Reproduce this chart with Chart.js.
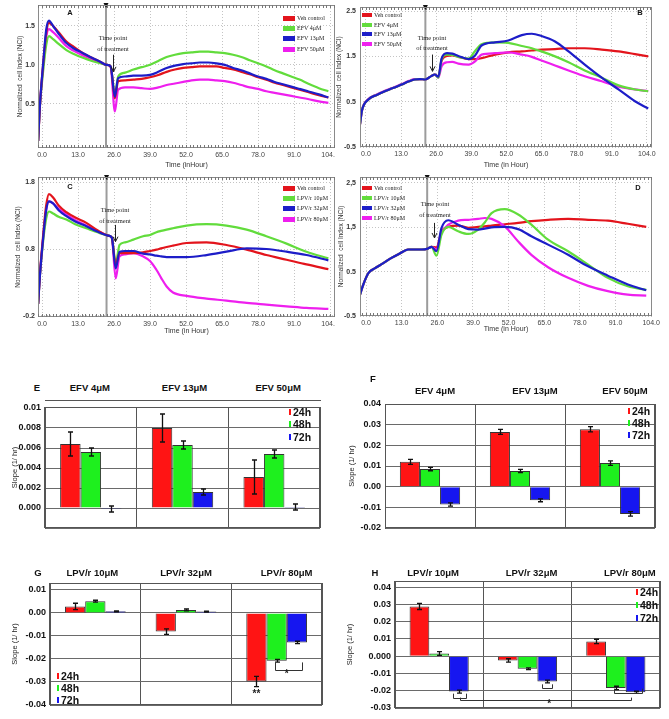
<!DOCTYPE html>
<html>
<head>
<meta charset="utf-8">
<title>Normalized cell index and slope charts</title>
<script src="https://cdn.jsdelivr.net/npm/chart.js@4.4.0/dist/chart.umd.min.js"></script>
<style>
  html, body { margin:0; padding:0; background:#ffffff; }
  #root { position:relative; width:669px; height:719px; overflow:hidden; background:#fff; font-family: Arial, "Liberation Sans", Helvetica, sans-serif; }
  #root canvas { position:absolute; }
  .t { position:absolute; white-space:nowrap; line-height:1; }
  .c { transform:translate(-50%,-50%); }
  .l { transform:translate(0,-50%); }
  .hdr { font-weight:bold; font-size:9.5px; color:#111; }
  .pl { font-weight:bold; font-size:7.5px; color:#111; }
  .lg { font-weight:bold; font-size:10.5px; color:#111; }
  .serif { font-family:"Liberation Serif","DejaVu Serif","Times New Roman",serif; color:#222; }
  .box { position:absolute; }
</style>
</head>
<body>
<div id="root"></div>
<script>
// ================= DATA =================
// x-axis tick values (hours) shared by the four cell-index panels
const xTickVals = [0, 13, 26, 39, 52, 65, 78, 91, 104];

// ---- Panel A : EFV (normalized cell index vs time) ----
const aTime   = [-1.4,-0.8,0.5,1.5,2.5,4,6,8.8,11.5,14.8,18,21,23.3,24.8,26.3,27.5,30,33,36,39,42,45,48,51,54,57,60,63,66,69,72,75,78,81,84,87,90,93,96,100,103.4];
const aVeh    = [0.02,0.45,1.05,1.40,1.54,1.50,1.42,1.30,1.23,1.15,1.09,1.04,1.00,0.98,0.57,0.79,0.80,0.81,0.82,0.84,0.87,0.91,0.94,0.96,0.97,0.98,0.98,0.98,0.96,0.94,0.91,0.88,0.84,0.81,0.77,0.74,0.71,0.68,0.65,0.61,0.58];
const aEfv4   = [0.02,0.45,0.95,1.25,1.37,1.33,1.27,1.19,1.14,1.09,1.05,1.02,1.00,0.98,0.62,0.85,0.90,0.94,0.97,1.00,1.05,1.10,1.13,1.15,1.16,1.17,1.17,1.16,1.15,1.13,1.10,1.06,1.02,0.98,0.93,0.89,0.85,0.81,0.76,0.70,0.66];
const aEfv13  = [0.02,0.46,1.05,1.45,1.57,1.50,1.40,1.28,1.21,1.15,1.09,1.04,1.00,0.98,0.59,0.83,0.85,0.86,0.86,0.87,0.91,0.96,0.99,1.01,1.02,1.03,1.03,1.02,1.00,0.96,0.93,0.89,0.85,0.82,0.78,0.75,0.72,0.69,0.66,0.62,0.58];
const aEfv50  = [0.02,0.45,1.00,1.35,1.46,1.42,1.35,1.24,1.18,1.12,1.07,1.03,1.00,0.97,0.40,0.68,0.71,0.71,0.70,0.69,0.71,0.74,0.76,0.78,0.80,0.81,0.81,0.80,0.79,0.77,0.74,0.71,0.69,0.66,0.64,0.62,0.60,0.58,0.56,0.53,0.51];
const aYTicks  = [0.5, 1.0, 1.5];
const aYLabels = ["0.5", "1.0", "1.5"];

// ---- Panel B : EFV ----
const bTime   = [-2.2,-1.5,0.9,4,7,10,13.2,16,18,20,22,24.3,25.5,26.8,28,30,32,34.2,38,40.4,42.8,47.8,52.7,57.7,61.4,65,70,75,81,87.3,93.5,99.6,104.5];
const bVeh    = [0.00,0.30,0.55,0.65,0.73,0.80,0.88,0.95,0.99,1.00,0.99,1.07,1.10,1.05,1.40,1.51,1.52,1.49,1.44,1.44,1.46,1.54,1.59,1.61,1.63,1.65,1.66,1.68,1.68,1.65,1.61,1.55,1.50];
const bEfv4   = [0.00,0.30,0.55,0.65,0.73,0.80,0.88,0.95,0.99,1.00,0.99,1.07,1.10,1.03,1.43,1.54,1.53,1.49,1.45,1.62,1.77,1.81,1.80,1.73,1.68,1.61,1.50,1.37,1.19,1.03,0.86,0.77,0.73];
const bEfv13  = [0.00,0.30,0.55,0.65,0.73,0.80,0.88,0.95,0.99,1.00,0.99,1.07,1.10,1.05,1.45,1.57,1.56,1.51,1.44,1.52,1.74,1.81,1.85,1.97,2.00,1.95,1.83,1.61,1.32,1.03,0.77,0.51,0.35];
const bEfv50  = [0.00,0.30,0.56,0.66,0.74,0.81,0.89,0.96,1.00,1.00,0.99,1.07,1.10,1.03,1.28,1.37,1.38,1.34,1.32,1.39,1.54,1.57,1.59,1.54,1.49,1.41,1.30,1.19,1.06,0.95,0.83,0.77,0.73];
const bYTicks  = [-0.5, 0.5, 1.5, 2.5];
const bYLabels = ["-0.5", "0.5", "1.5", "2.5"];

// ---- Panel C : LPV/r ----
const cTime   = [-1.4,-0.8,0.5,1.5,2.5,4,6,8.8,12,16,20,23.9,25.2,26.6,28,30,33,36.5,39,41.3,43,45,47.3,52.2,59.4,66.6,73.9,81,88.3,95.5,103.4];
const cVeh    = [-0.02,0.40,1.05,1.45,1.62,1.57,1.45,1.35,1.27,1.19,1.08,1.00,0.97,0.56,0.74,0.74,0.74,0.75,0.77,0.79,0.81,0.83,0.85,0.89,0.90,0.86,0.79,0.71,0.64,0.57,0.50];
const cLpv10  = [-0.02,0.38,0.95,1.25,1.36,1.33,1.28,1.24,1.17,1.11,1.05,1.00,0.97,0.59,0.86,0.90,0.94,0.99,1.01,1.05,1.07,1.09,1.11,1.15,1.17,1.15,1.09,0.99,0.88,0.76,0.66];
const cLpv32  = [-0.02,0.38,1.00,1.38,1.51,1.48,1.38,1.29,1.21,1.14,1.06,1.00,0.97,0.51,0.76,0.77,0.77,0.73,0.72,0.70,0.69,0.68,0.68,0.68,0.71,0.76,0.81,0.80,0.76,0.71,0.63];
const cLpv80  = [-0.02,0.38,1.00,1.38,1.51,1.48,1.40,1.32,1.23,1.15,1.07,1.00,0.97,0.36,0.69,0.72,0.74,0.69,0.62,0.49,0.37,0.24,0.15,0.10,0.06,0.03,-0.005,-0.03,-0.055,-0.08,-0.095];
const cYTicks  = [-0.2, 0.8, 1.8];
const cYLabels = ["-0.2", "0.8", "1.8"];

// ---- Panel D : LPV/r ----
const dTime   = [-2.2,-1.0,0.9,3.3,6,9.3,12,15.4,18,20.3,22.5,23.9,25.7,27.5,30,33.6,37.3,40.9,43.3,45.8,50.6,55.5,60.3,66.4,73.7,81,88.2,95.5,102.2];
const dVeh    = [-0.02,0.21,0.47,0.58,0.68,0.81,0.90,1.00,1.00,1.00,1.02,1.06,1.05,1.40,1.51,1.54,1.49,1.51,1.52,1.54,1.57,1.60,1.64,1.67,1.69,1.67,1.65,1.58,1.51];
const dLpv10  = [-0.02,0.21,0.47,0.58,0.68,0.81,0.90,1.00,1.00,1.00,1.02,1.06,0.86,1.33,1.51,1.41,1.35,1.45,1.61,1.82,1.91,1.79,1.56,1.22,0.96,0.66,0.36,0.17,0.09];
const dLpv32  = [-0.02,0.21,0.47,0.58,0.68,0.81,0.90,1.00,1.00,1.00,1.02,1.06,0.96,1.48,1.66,1.56,1.46,1.45,1.47,1.50,1.51,1.46,1.30,1.11,0.88,0.62,0.41,0.21,0.08];
const dLpv80  = [-0.02,0.21,0.47,0.58,0.68,0.81,0.90,1.00,1.00,1.00,1.02,1.06,1.00,1.37,1.56,1.65,1.67,1.69,1.71,1.69,1.52,1.18,0.88,0.60,0.36,0.18,0.06,-0.02,-0.04];
const dYTicks  = [-0.5, 0.5, 1.5, 2.5];
const dYLabels = ["-0.5", "0.5", "1,5", "2,5"];

const efvLegend = ["Veh control", "EFV  4\u03bcM", "EFV  13\u03bcM", "EFV  50\u03bcM"];
const lpvLegend = ["Veh control", "LPV/r  10\u03bcM", "LPV/r  32\u03bcM", "LPV/r  80\u03bcM"];

// ---- Slope bar panels ----
const efvCats = ["EFV 4\u03bcM", "EFV 13\u03bcM", "EFV 50\u03bcM"];
const lpvCats = ["LPV/r 10\u03bcM", "LPV/r 32\u03bcM", "LPV/r 80\u03bcM"];
const slopeSeries = ["24h", "48h", "72h"];

// E
const e24 = [0.0064, 0.0080, 0.0031];   const e24Err = [0.0012, 0.0014, 0.0017];
const e48 = [0.0056, 0.0063, 0.0054];   const e48Err = [0.0004, 0.0004, 0.0004];
const e72 = [-0.0001, 0.0016, 0.0001];  const e72Err = [0.0003, 0.0003, 0.0003];
const eTicks  = [-0.002, 0.000, 0.002, 0.004, 0.006, 0.008, 0.010];
const eLabels = ["", "0.000", "0.002", "0.004", "0.006", "0.008", "0.01"];
// F
const f24 = [0.0120, 0.0265, 0.0278];   const f24Err = [0.0012, 0.0012, 0.0013];
const f48 = [0.0085, 0.0076, 0.0114];   const f48Err = [0.0008, 0.0008, 0.0011];
const f72 = [-0.0086, -0.0066, -0.0132];const f72Err = [0.0008, 0.0007, 0.0011];
const fTicks  = [-0.02, -0.01, 0.00, 0.01, 0.02, 0.03, 0.04];
const fLabels = ["-0.02", "-0.01", "0.00", "0.01", "0.02", "0.03", "0.04"];
// G
const g24 = [0.0028, -0.0081, -0.0298]; const g24Err = [0.0014, 0.0012, 0.0022];
const g48 = [0.0051, 0.0013, -0.0208];  const g48Err = [0.0004, 0.0004, 0.0006];
const g72 = [0.0007, 0.0006, -0.0128];  const g72Err = [0.0002, 0.0002, 0.0005];
const gTicks  = [-0.04, -0.03, -0.02, -0.01, 0.00, 0.01];
const gLabels = ["-0.04", "-0.03", "-0.02", "-0.01", "0.00", "0.01"];
// H
const h24 = [0.0288, -0.0025, 0.0085];  const h24Err = [0.0018, 0.0010, 0.0013];
const h48 = [0.0015, -0.0073, -0.0184]; const h48Err = [0.0011, 0.0005, 0.0010];
const h72 = [-0.0205, -0.0147, -0.0209];const h72Err = [0.0009, 0.0008, 0.0006];
const hTicks  = [-0.03, -0.02, -0.01, 0.00, 0.01, 0.02, 0.03, 0.04];
const hLabels = ["-0.03", "-0.02", "-0.01", "0.000", "0.01", "0.02", "0.03", "0.04"];

// significance annotations (category index, dataset index, values in slope units)
const gBrackets = [{from:{cat:2,ds:1,shift:-0.1}, to:{cat:2,ds:2,shift:0.25}, tip:-0.0215, line:-0.0249}];
const gStars    = [{text:"**", cat:2, ds:0, shift:0, y:-0.0352}, {text:"*", cat:2, ds:1, shift:0.5, y:-0.0268}];
const hBrackets = [
  {from:{cat:0,ds:2,shift:-0.3}, to:{cat:0,ds:2,shift:0.35}, tip:-0.0217, line:-0.0240},
  {from:{cat:0,ds:2,shift:0.05}, to:{cat:2,ds:2,shift:-0.25}, tip:-0.0240, line:-0.0256},
  {from:{cat:1,ds:2,shift:-0.25}, to:{cat:1,ds:2,shift:0.25}, tip:-0.0163, line:-0.0185},
  {from:{cat:2,ds:1,shift:-0.1}, to:{cat:2,ds:2,shift:0.35}, tip:-0.0188, line:-0.0213}
];
const hStars    = [{text:"*", cat:1, ds:2, shift:0.1, y:-0.0278}];

// ================= STYLE / HELPERS =================
const COL = {veh:'#e3141c', g:'#62dc3c', b:'#1d1dc8', m:'#ee1fee'};
const BAR = {r:'#ff1414', g:'#1ef01e', b:'#1616f0'};

Chart.defaults.font.family = 'Arial, "Liberation Sans", Helvetica, sans-serif';
Chart.defaults.animation = false;

const root = document.getElementById('root');
function makeCanvas(b){
  const c = document.createElement('canvas');
  c.width = b.w; c.height = b.h;
  c.style.left = b.x + 'px'; c.style.top = b.y + 'px';
  c.style.width = b.w + 'px'; c.style.height = b.h + 'px';
  root.appendChild(c); return c;
}
function text(str, x, y, cls, size){
  const d = document.createElement('div');
  d.className = 't ' + cls; d.textContent = str;
  d.style.left = x + 'px'; d.style.top = y + 'px';
  if (size) d.style.fontSize = size + 'px';
  root.appendChild(d); return d;
}
function rect(x, y, w, h, color){
  const d = document.createElement('div'); d.className = 'box';
  Object.assign(d.style, {left:x+'px', top:y+'px', width:w+'px', height:h+'px', background:color});
  root.appendChild(d); return d;
}

// plot frame (+ optional minor ticks along top/bottom)
const framePlugin = {
  id:'frame',
  afterDatasetsDraw(chart, args, o){
    if (!o || !o.color) return;
    const {left, top, right, bottom} = chart.chartArea, ctx = chart.ctx;
    ctx.save();
    ctx.strokeStyle = o.color; ctx.lineWidth = 1;
    ctx.strokeRect(Math.round(left)+0.5, Math.round(top)+0.5, Math.round(right-left)-1, Math.round(bottom-top)-1);
    if (o.minorStep){
      const xs = chart.scales.x;
      ctx.strokeStyle = '#777';
      ctx.beginPath();
      for (let v = Math.ceil(xs.min / o.minorStep) * o.minorStep; v <= xs.max; v += o.minorStep){
        const x = Math.round(xs.getPixelForValue(v)) + 0.5;
        ctx.moveTo(x, top); ctx.lineTo(x, top + 3);
        ctx.moveTo(x, bottom); ctx.lineTo(x, bottom - 3);
      }
      ctx.stroke();
    }
    ctx.restore();
  }
};

// time point of treatment: grey vertical line, marker and arrow
const treatPlugin = {
  id:'treat',
  beforeDatasetsDraw(chart, args, o){
    if (!o || o.t == null) return;
    const xs = chart.scales.x, {top, bottom} = chart.chartArea, ctx = chart.ctx;
    const x = xs.getPixelForValue(o.t);
    ctx.save();
    ctx.strokeStyle = '#9c9c9c'; ctx.lineWidth = 2;
    ctx.beginPath(); ctx.moveTo(x, top); ctx.lineTo(x, bottom); ctx.stroke();
    ctx.fillStyle = '#111';
    ctx.beginPath(); ctx.moveTo(x-2.5, top-2); ctx.lineTo(x+2.5, top-2); ctx.lineTo(x, top+3); ctx.closePath(); ctx.fill();
    ctx.restore();
  },
  afterDatasetsDraw(chart, args, o){
    if (!o || !o.arrow) return;
    const xs = chart.scales.x, ys = chart.scales.y, ctx = chart.ctx;
    const ax = Math.round(xs.getPixelForValue(o.arrow.t)) + 0.5;
    const y1 = ys.getPixelForValue(o.arrow.from), y2 = ys.getPixelForValue(o.arrow.to);
    ctx.save();
    ctx.strokeStyle = '#222'; ctx.lineWidth = 1;
    ctx.beginPath(); ctx.moveTo(ax, y1); ctx.lineTo(ax, y2);
    ctx.moveTo(ax-2.5, y2-5); ctx.lineTo(ax, y2); ctx.lineTo(ax+2.5, y2-5);
    ctx.stroke(); ctx.restore();
  }
};

// error bars for bar datasets
const errPlugin = {
  id:'errbars',
  afterDatasetsDraw(chart){
    const ys = chart.scales.y, ctx = chart.ctx;
    chart.data.datasets.forEach((ds, di) => {
      if (!ds.errors) return;
      chart.getDatasetMeta(di).data.forEach((bar, i) => {
        const v = ds.data[i], e = ds.errors[i];
        const x = Math.round(bar.x) + 0.5;
        const y1 = ys.getPixelForValue(v + e), y2 = ys.getPixelForValue(v - e);
        ctx.save(); ctx.strokeStyle = '#111'; ctx.lineWidth = 1.3;
        ctx.beginPath();
        ctx.moveTo(x, y1); ctx.lineTo(x, y2);
        ctx.moveTo(x-2.5, y1); ctx.lineTo(x+2.5, y1);
        ctx.moveTo(x-2.5, y2); ctx.lineTo(x+2.5, y2);
        ctx.stroke(); ctx.restore();
      });
    });
  }
};

// significance brackets and stars
const bracketPlugin = {
  id:'brackets',
  afterDatasetsDraw(chart, args, o){
    if (!o) return;
    const ys = chart.scales.y, ctx = chart.ctx;
    const px = e => { const bar = chart.getDatasetMeta(e.ds).data[e.cat]; return bar.x + (e.shift || 0) * bar.width; };
    ctx.save(); ctx.strokeStyle = '#333'; ctx.lineWidth = 1;
    (o.items || []).forEach(b => {
      const x1 = Math.round(px(b.from)) + 0.5, x2 = Math.round(px(b.to)) + 0.5;
      const yl = Math.round(ys.getPixelForValue(b.line)) + 0.5, yt = ys.getPixelForValue(b.tip);
      ctx.beginPath(); ctx.moveTo(x1, yt); ctx.lineTo(x1, yl); ctx.lineTo(x2, yl); ctx.lineTo(x2, yt); ctx.stroke();
    });
    ctx.fillStyle = '#222'; ctx.font = 'bold 10px Arial, "Liberation Sans", sans-serif';
    ctx.textAlign = 'center'; ctx.textBaseline = 'middle';
    (o.stars || []).forEach(s => ctx.fillText(s.text, px(s), ys.getPixelForValue(s.y)));
    ctx.restore();
  }
};

// ================= LINE PANELS =================
function buildLine(p){
  const cv = makeCanvas(p.box);
  const datasets = p.series.map(s => ({
    label: s.label,
    data: p.time.map((t, i) => ({x: t, y: s.values[i]})),
    borderColor: s.color, backgroundColor: s.color,
    borderWidth: 2.2, pointRadius: 0, cubicInterpolationMode: 'monotone', fill: false
  }));
  const chart = new Chart(cv, {
    type: 'line',
    data: {datasets},
    options: {
      responsive: false, animation: false, events: [],
      layout: {padding: {left: 0, top: p.plot.t - p.box.y, right: p.box.x + p.box.w - p.plot.r, bottom: 0}},
      plugins: {
        legend: {display: false}, tooltip: {enabled: false},
        frame: {color: '#8a8a8a', minorStep: 1.3},
        treat: {t: p.treatT, arrow: p.arrow}
      },
      scales: {
        x: {
          type: 'linear', min: p.xMin, max: p.xMax,
          afterBuildTicks: s => { s.ticks = xTickVals.map(v => ({value: v})); },
          afterFit: s => { s.height = p.box.y + p.box.h - p.plot.b; s.paddingLeft = 0; s.paddingRight = 0; },
          ticks: {callback: v => Number(v).toFixed(1), font: {size: 7}, color: '#444', padding: p.xTickPad, maxRotation: 0, autoSkip: false},
          grid: {color: '#c4c4c4', drawTicks: false},
          border: {display: false, dash: [1, 2]},
          title: {display: true, text: p.xTitle, font: {size: 7}, color: '#333', padding: {top: 0, bottom: p.xTitlePad}}
        },
        y: {
          min: p.yMin, max: p.yMax,
          afterBuildTicks: s => { s.ticks = p.yTicks.map(v => ({value: v})); },
          afterFit: s => { s.width = p.plot.l - p.box.x; s.paddingTop = 0; s.paddingBottom = 0; },
          ticks: {callback: v => p.yLabels[p.yTicks.indexOf(v)], font: {size: 7, weight: 'bold'}, color: '#333', padding: p.yTickPad},
          grid: {color: '#c4c4c4', drawTicks: false},
          border: {display: false, dash: [1, 2]},
          title: {display: true, text: 'Normalized  cell Index (NCI)', font: {size: 6.5}, color: '#333', padding: {top: p.yTitlePad, bottom: 0}}
        }
      }
    },
    plugins: [framePlugin, treatPlugin]
  });
  // legend (HTML)
  p.legend.forEach((name, i) => {
    const y = p.legendYs[i];
    rect(p.legendX, y - p.legendMark[1]/2, p.legendMark[0], p.legendMark[1], p.legendColors[i]);
    text(name, p.legendX + p.legendMark[0] + 2, y, 'serif l', 6);
  });
  text('Time point', p.tpX, p.tpY[0], 'serif c', 6.5);
  text('of treatment', p.tpX, p.tpY[1], 'serif c', 6.5);
  text(p.letter, p.letterPos[0], p.letterPos[1], 'pl c');
  return chart;
}

const legendColors = [COL.veh, COL.g, COL.b, COL.m];

buildLine({
  box:{x:0,y:0,w:335,h:170}, plot:{l:38,t:5,r:335,b:148},
  xMin:-1.45, xMax:105.8, yMin:-0.07, yMax:1.77, yTicks:aYTicks, yLabels:aYLabels,
  time:aTime,
  series:[{label:efvLegend[2],values:aEfv13,color:COL.b},{label:efvLegend[0],values:aVeh,color:COL.veh},{label:efvLegend[1],values:aEfv4,color:COL.g},{label:efvLegend[3],values:aEfv50,color:COL.m}],
  xTitle:'Time (inHour)', xTickPad:3, xTitlePad:1, yTickPad:3, yTitlePad:16,
  treatT:23.1, arrow:{t:25.6, from:1.13, to:0.91},
  legend:efvLegend, legendColors, legendX:283, legendYs:[18,28,38,49], legendMark:[12,5],
  tpX:113, tpY:[38,49], letter:'A', letterPos:[70,13]
});
buildLine({
  box:{x:335,y:0,w:334,h:170}, plot:{l:360,t:7,r:652,b:147},
  xMin:-2.2, xMax:105.9, yMin:-0.5, yMax:2.59, yTicks:bYTicks, yLabels:bYLabels,
  time:bTime,
  series:[{label:efvLegend[2],values:bEfv13,color:COL.b},{label:efvLegend[1],values:bEfv4,color:COL.g},{label:efvLegend[3],values:bEfv50,color:COL.m},{label:efvLegend[0],values:bVeh,color:COL.veh}],
  xTitle:'Time (in Hour)', xTickPad:3, xTitlePad:1, yTickPad:4, yTitlePad:0,
  treatT:22.0, arrow:{t:24.3, from:1.54, to:1.17},
  legend:efvLegend, legendColors, legendX:362, legendYs:[15,25,34,44], legendMark:[10,4],
  tpX:432, tpY:[38,48], letter:'B', letterPos:[640,13]
});
buildLine({
  box:{x:0,y:170,w:335,h:165}, plot:{l:38,t:177,r:335,b:317},
  xMin:-1.45, xMax:105.8, yMin:-0.215, yMax:1.875, yTicks:cYTicks, yLabels:cYLabels,
  time:cTime,
  series:[{label:lpvLegend[2],values:cLpv32,color:COL.b},{label:lpvLegend[0],values:cVeh,color:COL.veh},{label:lpvLegend[1],values:cLpv10,color:COL.g},{label:lpvLegend[3],values:cLpv80,color:COL.m}],
  xTitle:'Time (in Hour)', xTickPad:3, xTitlePad:0, yTickPad:3, yTitlePad:14,
  treatT:23.3, arrow:{t:26.4, from:1.16, to:0.91},
  legend:lpvLegend, legendColors, legendX:283, legendYs:[188,198,208,219], legendMark:[12,5],
  tpX:115, tpY:[210,221], letter:'C', letterPos:[70,187]
});
buildLine({
  box:{x:335,y:170,w:334,h:165}, plot:{l:360,t:177,r:652,b:316},
  xMin:-2.2, xMax:104.3, yMin:-0.5, yMax:2.635, yTicks:dYTicks, yLabels:dYLabels,
  time:dTime,
  series:[{label:lpvLegend[2],values:dLpv32,color:COL.b},{label:lpvLegend[1],values:dLpv10,color:COL.g},{label:lpvLegend[3],values:dLpv80,color:COL.m},{label:lpvLegend[0],values:dVeh,color:COL.veh}],
  xTitle:'Time (in Hour)', xTickPad:3, xTitlePad:2, yTickPad:4, yTitlePad:2,
  treatT:22.3, arrow:{t:24.8, from:1.60, to:1.26},
  legend:lpvLegend, legendColors, legendX:362, legendYs:[188,198,208,218], legendMark:[10,4],
  tpX:435, tpY:[204,215], letter:'D', letterPos:[638,188]
});

// ================= BAR PANELS =================
function buildBar(p){
  const cv = makeCanvas(p.box);
  const colors = [BAR.r, BAR.g, BAR.b];
  const datasets = p.series.map((s, k) => ({
    label: slopeSeries[k], data: s.values, errors: s.errors,
    backgroundColor: colors[k], borderColor: '#333', borderWidth: 1,
    categoryPercentage: 0.67, barPercentage: 1.0
  }));
  const chart = new Chart(cv, {
    type: 'bar',
    data: {labels: p.cats, datasets},
    options: {
      responsive: false, animation: false, events: [],
      layout: {padding: {left: 0, top: p.plot.t - p.box.y, right: p.box.x + p.box.w - p.plot.r, bottom: 0}},
      plugins: {
        legend: {display: false}, tooltip: {enabled: false},
        frame: {color: '#555'},
        brackets: {items: p.brackets || [], stars: p.stars || []}
      },
      scales: {
        x: {
          afterFit: s => { s.height = p.box.y + p.box.h - p.plot.b; s.paddingLeft = 0; s.paddingRight = 0; },
          ticks: {display: false},
          grid: {offset: true, color: '#555', drawTicks: false},
          border: {display: false}
        },
        y: {
          min: p.yMin, max: p.yMax,
          afterBuildTicks: s => { s.ticks = p.ticks.map(v => ({value: v})); },
          afterFit: s => { s.width = p.plot.l - p.box.x; s.paddingTop = 0; s.paddingBottom = 0; },
          ticks: {callback: v => p.labels[p.ticks.indexOf(v)], font: {size: 9, weight: 'bold'}, color: '#111', padding: 4},
          grid: {color: '#6a6a6a', drawTicks: false},
          border: {display: true, color: '#555'},
          title: {display: true, text: 'Slope (1/ hr)', font: {size: 7.5}, color: '#222', padding: {top: p.yTitlePad, bottom: 0}}
        }
      }
    },
    plugins: [framePlugin, errPlugin, bracketPlugin]
  });
  // category headers placed at category centres
  p.cats.forEach((c, i) => {
    const x = p.box.x + chart.scales.x.getPixelForValue(i) + p.headerDx[i];
    text(c, x, p.headerY, 'hdr c');
  });
  text(p.letter, p.letterPos[0], p.letterPos[1], 'hdr c');
  // legend
  slopeSeries.forEach((name, k) => {
    const y = p.legendYs[k];
    rect(p.legendX, y - 3, 2, 6, colors[k]);
    text(name, p.legendX + 4, y, 'lg l');
  });
  return chart;
}

buildBar({
  box:{x:0,y:400,w:325,h:132}, plot:{l:45,t:407,r:320,b:528},
  yMin:-0.002, yMax:0.0101, ticks:eTicks, labels:eLabels, yTitlePad:10,
  cats:efvCats, series:[{values:e24,errors:e24Err},{values:e48,errors:e48Err},{values:e72,errors:e72Err}],
  headerY:388, headerDx:[-1,2,4], letter:'E', letterPos:[37,388],
  legendX:289, legendYs:[412,424,437]
});
rect(45, 400, 276, 1, '#555');

buildBar({
  box:{x:335,y:398,w:330,h:134}, plot:{l:385,t:404,r:655,b:528},
  yMin:-0.02, yMax:0.04, ticks:fTicks, labels:fLabels, yTitlePad:12,
  cats:efvCats, series:[{values:f24,errors:f24Err},{values:f48,errors:f48Err},{values:f72,errors:f72Err}],
  headerY:391, headerDx:[5,15,15], letter:'F', letterPos:[373,379],
  legendX:628, legendYs:[411,423,435]
});

buildBar({
  box:{x:0,y:578,w:330,h:132}, plot:{l:50,t:583,r:322,b:705},
  yMin:-0.04, yMax:0.013, ticks:gTicks, labels:gLabels, yTitlePad:10,
  cats:lpvCats, series:[{values:g24,errors:g24Err},{values:g48,errors:g48Err},{values:g72,errors:g72Err}],
  brackets:gBrackets, stars:gStars,
  headerY:573, headerDx:[-3,0,10], letter:'G', letterPos:[38,573],
  legendX:57, legendYs:[676,688,700]
});

buildBar({
  box:{x:335,y:576,w:334,h:136}, plot:{l:395,t:581,r:660,b:708},
  yMin:-0.03, yMax:0.0435, ticks:hTicks, labels:hLabels, yTitlePad:10,
  cats:lpvCats, series:[{values:h24,errors:h24Err},{values:h48,errors:h48Err},{values:h72,errors:h72Err}],
  brackets:hBrackets, stars:hStars,
  headerY:573, headerDx:[-6,4,14], letter:'H', letterPos:[375,573],
  legendX:636, legendYs:[592,605,618]
});
</script>
</body>
</html>
